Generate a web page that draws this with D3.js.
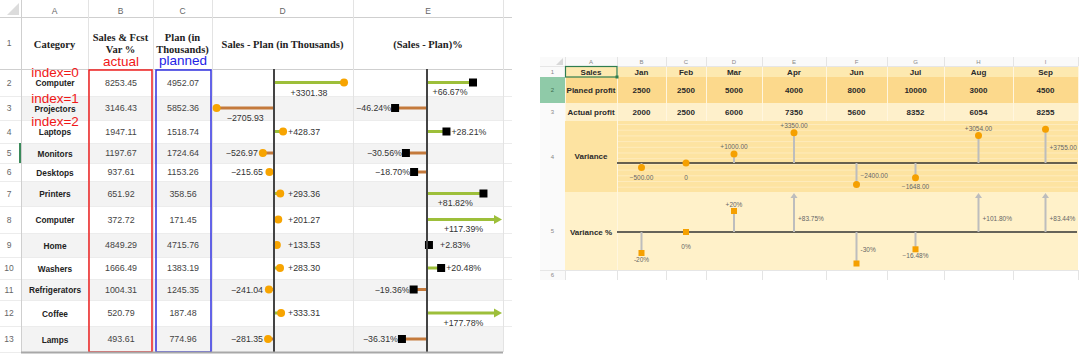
<!DOCTYPE html>
<html><head><meta charset="utf-8">
<script src="https://cdn.jsdelivr.net/npm/d3@7"></script>
<style>html,body{margin:0;padding:0;background:#fff;}svg{display:block;}</style>
</head><body><svg id="c" width="1080" height="356"></svg>
<script>
// ---------- Left sheet data ----------
const categories = ["Computer","Projectors","Laptops","Monitors","Desktops","Printers","Computer","Home","Washers","Refrigerators","Coffee","Lamps"];
const salesActual = [8253.45,3146.43,1947.11,1197.67,937.61,651.92,372.72,4849.29,1666.49,1004.31,520.79,493.61];
const planThousands = [4952.07,5852.36,1518.74,1724.64,1153.26,358.56,171.45,4715.76,1383.19,1245.35,187.48,774.96];
const salesMinusPlan = [3301.38,-2705.93,428.37,-526.97,-215.65,293.36,201.27,133.53,283.30,-241.04,333.31,-281.35];
const salesMinusPlanPct = [66.67,-46.24,28.21,-30.56,-18.70,81.82,117.39,2.83,20.48,-19.36,177.78,-36.31];
const leftColumnLetters = ["A","B","C","D","E"];
const leftHeaders = [["Category"],["Sales & Fcst","Var %"],["Plan (in","Thousands)"],["Sales - Plan (in Thousands)"],["(Sales - Plan)%"]];
const indexNotes = ["index=0","index=1","index=2"];

// ---------- Right sheet data ----------
const months = ["Jan","Feb","Mar","Apr","Jun","Jul","Aug","Sep"];
const plannedProfit = [2500,2500,5000,4000,8000,10000,3000,4500];
const actualProfit = [2000,2500,6000,7350,5600,8352,6054,8255];
const variance = [-500,0,1000,3350,-2400,-1648,3054,3755];
const variancePct = [-20,0,20,83.75,-30,-16.48,101.80,83.44];
const rightColumnLetters = ["A","B","C","D","E","F","G","H","I"];
const rightRowLabels = ["Sales","Planed profit","Actual profit","Variance","Variance %"];

const svg = d3.select("#c");
const SANS = "'Liberation Sans', Arial, sans-serif";
const SERIF = "'Liberation Serif', 'Times New Roman', serif";

// ================= LEFT SHEET =================
const rowEdges = [0,17,69,96,120,143,163,181,206,233,257,279,300,326,352];
const colEdges = [0,21,88,153,212,353,503];
const axisD = 274, axisE = 427, eLimit = 500;
const gL = svg.append("g");

for (let r = 1; r <= 13; r++) {
  if (r >= 3 && r % 2 === 1) {
    gL.append("rect").attr("x", 21).attr("y", rowEdges[r]).attr("width", 503-21)
      .attr("height", rowEdges[r+1]-rowEdges[r]).attr("fill", "#f3f3f3");
  }
}
rowEdges.forEach((y, r) => {
  if (r === 0) return;
  gL.append("line").attr("x1", 0).attr("x2", r >= 14 ? 503 : 512).attr("y1", y+0.5).attr("y2", y+0.5)
    .attr("stroke", r <= 2 ? "#cfcfcf" : "#ececec").attr("stroke-width", 1);
});
colEdges.forEach(x => {
  if (x === 0) return;
  gL.append("line").attr("x1", x+0.5).attr("x2", x+0.5).attr("y1", 0).attr("y2", 352)
    .attr("stroke", x === 21 ? "#cfcfcf" : "#e3e3e3");
});
gL.append("polygon").attr("points", "19,3 19,15 7,15").attr("fill", "#dcdcdc");
leftColumnLetters.forEach((t, i) => {
  gL.append("text").attr("x", (colEdges[i+1]+colEdges[i+2])/2).attr("y", 13.5)
    .attr("text-anchor", "middle").attr("font-family", SANS).attr("font-size", 8.5).attr("fill", "#666").text(t);
});
for (let r = 1; r <= 13; r++) {
  gL.append("text").attr("x", 9).attr("y", (rowEdges[r]+rowEdges[r+1])/2 + 3)
    .attr("text-anchor", "middle").attr("font-family", SANS).attr("font-size", 8.5).attr("fill", "#666").text(r);
}
gL.append("rect").attr("x", 19).attr("y", rowEdges[5]).attr("width", 2).attr("height", rowEdges[6]-rowEdges[5]).attr("fill", "#3a8a5a");
leftHeaders.forEach((lines, i) => {
  const cx = (colEdges[i+1]+colEdges[i+2])/2;
  const cy = lines.length === 1 ? 44 : 37.5;
  lines.forEach((ln, k) => {
    gL.append("text").attr("x", cx).attr("y", cy + 3.5 + k*11.5).attr("text-anchor", "middle")
      .attr("font-family", SERIF).attr("font-weight", "bold").attr("font-size", 10.5).attr("fill", "#222").text(ln);
  });
});
gL.append("text").attr("x", 121).attr("y", 66).attr("text-anchor", "middle").attr("font-family", SANS)
  .attr("font-size", 13.5).attr("fill", "#f01818").text("actual");
gL.append("text").attr("x", 183).attr("y", 65).attr("text-anchor", "middle").attr("font-family", SANS)
  .attr("font-size", 13.5).attr("fill", "#2222e6").text("planned");

const rowCenter = i => (rowEdges[i+2] + rowEdges[i+3]) / 2;
const fmt2 = d3.format(".2f");
categories.forEach((c, i) => {
  const yc = rowCenter(i);
  gL.append("text").attr("x", 55).attr("y", yc+3.5).attr("text-anchor", "middle").attr("font-family", SANS)
    .attr("font-weight", "bold").attr("font-size", 8.3).attr("fill", "#222").text(c);
  gL.append("text").attr("x", 121).attr("y", yc+3).attr("text-anchor", "middle").attr("font-family", SANS)
    .attr("font-size", 8.9).attr("fill", "#444").text(fmt2(salesActual[i]));
  gL.append("text").attr("x", 183).attr("y", yc+3).attr("text-anchor", "middle").attr("font-family", SANS)
    .attr("font-size", 8.9).attr("fill", "#444").text(fmt2(planThousands[i]));
});
indexNotes.forEach((t, i) => {
  gL.append("text").attr("x", 55).attr("y", rowCenter(i) - 5.5).attr("text-anchor", "middle").attr("font-family", SANS)
    .attr("font-size", 13.5).attr("fill", "#f01818").text(t);
});
gL.append("rect").attr("x", 89).attr("y", 70).attr("width", 63).attr("height", 282)
  .attr("fill", "none").attr("stroke", "#ee2020").attr("stroke-width", 1.5);
gL.append("rect").attr("x", 156).attr("y", 70).attr("width", 55).attr("height", 282)
  .attr("fill", "none").attr("stroke", "#3030e0").attr("stroke-width", 1.5);

const xD = d3.scaleLinear().domain([-3300, 3300]).range([axisD-70, axisD+70]);
const xE = d3.scaleLinear().domain([-100, 100]).range([axisE-69, axisE+69]);
const POS = "#9dbf3a", NEG = "#c47a3c";
const signed = v => (v > 0 ? "+" : "") + fmt2(v);

salesMinusPlan.forEach((v, i) => {
  const yc = rowCenter(i), cx = xD(v);
  gL.append("line").attr("x1", xD(0)).attr("x2", cx).attr("y1", yc).attr("y2", yc)
    .attr("stroke", v >= 0 ? POS : NEG).attr("stroke-width", 3);
  gL.append("circle").attr("cx", cx).attr("cy", yc).attr("r", 4).attr("fill", "#f7a400");
  const t = gL.append("text").attr("font-family", SANS).attr("font-size", 8.8).attr("fill", "#333").text(signed(v));
  const w = t.node().getComputedTextLength();
  const len = Math.abs(cx - xD(0));
  if (len > w + 6) {
    t.attr("x", (cx + xD(0))/2).attr("y", yc + 13).attr("text-anchor", "middle");
  } else if (v >= 0) {
    t.attr("x", Math.max(cx + 5, xD(0) + 14)).attr("y", yc + 3).attr("text-anchor", "start");
  } else {
    t.attr("x", Math.min(cx - 5, xD(0) - 11)).attr("y", yc + 3).attr("text-anchor", "end");
  }
});
salesMinusPlanPct.forEach((v, i) => {
  const yc = rowCenter(i);
  const over = xE(v) > eLimit;
  const cx = over ? eLimit : xE(v);
  gL.append("line").attr("x1", xE(0)).attr("x2", over ? cx - 4 : cx).attr("y1", yc).attr("y2", yc)
    .attr("stroke", v >= 0 ? POS : NEG).attr("stroke-width", 3);
  if (over) {
    gL.append("polygon").attr("points", `${cx-6},${yc-4.5} ${cx+2},${yc} ${cx-6},${yc+4.5}`).attr("fill", POS);
  } else {
    gL.append("rect").attr("x", cx-4).attr("y", yc-4).attr("width", 8).attr("height", 8).attr("fill", "#000");
  }
  const t = gL.append("text").attr("font-family", SANS).attr("font-size", 8.8).attr("fill", "#333").text(signed(v) + "%");
  const w = t.node().getComputedTextLength();
  const len = Math.abs(cx - xE(0));
  if (len > w + 6) {
    t.attr("x", (cx + xE(0))/2).attr("y", yc + 12.5).attr("text-anchor", "middle");
  } else if (v >= 0) {
    t.attr("x", Math.max(cx + 5, xE(0) + 13)).attr("y", yc + 3).attr("text-anchor", "start");
  } else {
    t.attr("x", cx - 4).attr("y", yc + 3).attr("text-anchor", "end");
  }
});
[axisD, axisE].forEach(x => {
  gL.append("line").attr("x1", x).attr("x2", x).attr("y1", 69).attr("y2", 352).attr("stroke", "#444").attr("stroke-width", 2);
});
gL.append("line").attr("x1", 21).attr("x2", 503).attr("y1", 352.5).attr("y2", 352.5).attr("stroke", "#a8a8a8").attr("stroke-width", 2);

// ================= RIGHT SHEET =================
const gR = svg.append("g");
const rEdges = [57,66,77,103,121,192,270,280];
const cEdges = [540,565,617,666,706,762,826,887,944,1013,1078];
const rowFills = ["#fde9b0","#fcd98c","#fef0cb","#fde3a1","#fff1c9"];
const colCenters = d3.pairs(cEdges.slice(1)).map(([a,b]) => (a+b)/2);
const xR = d3.scaleOrdinal().domain(months).range(colCenters.slice(1));

gR.append("rect").attr("x", 540).attr("y", rEdges[0]).attr("width", 1078-540).attr("height", rEdges[1]-rEdges[0]).attr("fill", "#fafafa");
gR.append("rect").attr("x", 540).attr("y", rEdges[1]).attr("width", 25).attr("height", rEdges[7]-rEdges[1]).attr("fill", "#fafafa");
gR.append("polygon").attr("points", "563,58 563,65 556,65").attr("fill", "#d8d8d8");
rowFills.forEach((f, k) => {
  gR.append("rect").attr("x", 565).attr("y", rEdges[k+1]).attr("width", 1078-565)
    .attr("height", rEdges[k+2]-rEdges[k+1]).attr("fill", f);
});
gR.append("rect").attr("x", 540).attr("y", rEdges[2]).attr("width", 25).attr("height", rEdges[3]-rEdges[2]).attr("fill", "#8fcaa8");
d3.range(124.5, 191, 5.7).forEach(y => {
  gR.append("line").attr("x1", 617).attr("x2", 1078).attr("y1", y).attr("y2", y).attr("stroke", "#feebbc").attr("stroke-width", 1);
});
cEdges.forEach((x, k) => {
  if (k === 0) return;
  gR.append("line").attr("x1", x+0.5).attr("x2", x+0.5).attr("y1", rEdges[0]).attr("y2", rEdges[1])
    .attr("stroke", "#e4e4e4");
  gR.append("line").attr("x1", x+0.5).attr("x2", x+0.5).attr("y1", rEdges[1]).attr("y2", rEdges[4])
    .attr("stroke", "#fff6df");
  gR.append("line").attr("x1", x+0.5).attr("x2", x+0.5).attr("y1", rEdges[6]).attr("y2", rEdges[7])
    .attr("stroke", "#e4e4e4");
});
gR.append("line").attr("x1", 617.5).attr("x2", 617.5).attr("y1", rEdges[4]).attr("y2", rEdges[6]).attr("stroke", "#fff6df");
[rEdges[1], rEdges[6]].forEach(y => gR.append("line").attr("x1", 540).attr("x2", 1078).attr("y1", y+0.5).attr("y2", y+0.5).attr("stroke", "#e6e6e6"));
rightColumnLetters.forEach((t, k) => {
  gR.append("text").attr("x", colCenters[k]).attr("y", 63.5).attr("text-anchor", "middle")
    .attr("font-family", SANS).attr("font-size", 6).attr("fill", "#888").text(t);
});
for (let r = 1; r <= 6; r++) {
  gR.append("text").attr("x", 552.5).attr("y", (rEdges[r]+rEdges[r+1])/2 + 2).attr("text-anchor", "middle")
    .attr("font-family", SANS).attr("font-size", 6).attr("fill", r === 2 ? "#3b6e50" : "#888").text(r);
}
const rowLabelY = [72, 90, 112, 156, 232];
rightRowLabels.forEach((t, k) => {
  gR.append("text").attr("x", 591).attr("y", rowLabelY[k] + 3).attr("text-anchor", "middle")
    .attr("font-family", SANS).attr("font-weight", "bold").attr("font-size", 8).attr("fill", "#2a2a2a").text(t);
});
gR.append("rect").attr("x", 565.5).attr("y", 66.5).attr("width", 51.5).attr("height", 10.5)
  .attr("fill", "none").attr("stroke", "#2f7d4f").attr("stroke-width", 1.2);
gR.append("rect").attr("x", 615.5).attr("y", 75.5).attr("width", 3).attr("height", 3).attr("fill", "#2f7d4f");
months.forEach((m, k) => {
  const x = xR(m);
  gR.append("text").attr("x", x).attr("y", 75).attr("text-anchor", "middle").attr("font-family", SANS)
    .attr("font-weight", "bold").attr("font-size", 8).attr("fill", "#2a2a2a").text(m);
  gR.append("text").attr("x", x).attr("y", 93).attr("text-anchor", "middle").attr("font-family", SANS)
    .attr("font-weight", "bold").attr("font-size", 8).attr("fill", "#2a2a2a").text(plannedProfit[k]);
  gR.append("text").attr("x", x).attr("y", 115).attr("text-anchor", "middle").attr("font-family", SANS)
    .attr("font-weight", "bold").attr("font-size", 8).attr("fill", "#2a2a2a").text(actualProfit[k]);
});

const axV = 163, axP = 232;
const yV = d3.scaleLinear().domain([-4000, 4000]).range([axV+36, axV-36]);
const yP = d3.scaleLinear().domain([-40, 40]).range([axP+42, axP-42]);
const STEM = "#bdbdbd", MARK = "#f5a000", LBL = "#666";
const lbl = (x, y, t, anchor) => gR.append("text").attr("x", x).attr("y", y).attr("text-anchor", anchor)
  .attr("font-family", SANS).attr("font-size", 6.5).attr("fill", LBL).text(t);

gR.append("line").attr("x1", 617).attr("x2", 1077).attr("y1", axV).attr("y2", axV).attr("stroke", "#333").attr("stroke-width", 1.5);
gR.append("line").attr("x1", 617).attr("x2", 1077).attr("y1", axP).attr("y2", axP).attr("stroke", "#333").attr("stroke-width", 1.5);

variance.forEach((v, k) => {
  const x = xR(months[k]), y = yV(v);
  if (v !== 0) gR.append("line").attr("x1", x).attr("x2", x).attr("y1", axV).attr("y2", y).attr("stroke", STEM).attr("stroke-width", 2);
  gR.append("circle").attr("cx", x).attr("cy", y).attr("r", 3.5).attr("fill", MARK);
  const t = v === 0 ? "0" : (v > 0 ? "+" : "") + fmt2(v);
  if (v > 0) {
    if (y - rEdges[4] >= 10) lbl(x, y - 5, t, "middle");
    else lbl(x + 4, (axV + y)/2 + 4, t, "start");
  } else {
    if (rEdges[5] - y >= 10) lbl(x, Math.max(y + 11, axV + 17), t, "middle");
    else lbl(x + 4, (axV + y)/2 + 4, t, "start");
  }
});
const pTop = 197;
variancePct.forEach((v, k) => {
  const x = xR(months[k]);
  const over = yP(v) < pTop;
  const y = over ? pTop : yP(v);
  if (v !== 0) gR.append("line").attr("x1", x).attr("x2", x).attr("y1", axP).attr("y2", y).attr("stroke", STEM).attr("stroke-width", 2);
  const t = v === 0 ? "0%" : (v > 0 ? "+" : "") + (Number.isInteger(v) ? String(v) : fmt2(v)) + "%";
  if (over) {
    gR.append("polygon").attr("points", `${x-3.5},${y+1} ${x},${y-4} ${x+3.5},${y+1}`).attr("fill", STEM);
    lbl(x + 4, (axP + y)/2 + 6, t, "start");
    return;
  }
  gR.append("rect").attr("x", x-3).attr("y", y-3).attr("width", 6).attr("height", 6).attr("fill", MARK);
  if (v > 0) {
    if (y - rEdges[5] >= 10) lbl(x, y - 4.5, t, "middle");
    else lbl(x + 4, (axP + y)/2 + 4, t, "start");
  } else {
    if (rEdges[6] - y >= 10) lbl(x, Math.max(y + 9, axP + 16.5), t, "middle");
    else lbl(x + 4, (axP + y)/2 + 4, t, "start");
  }
});
</script></body></html>
